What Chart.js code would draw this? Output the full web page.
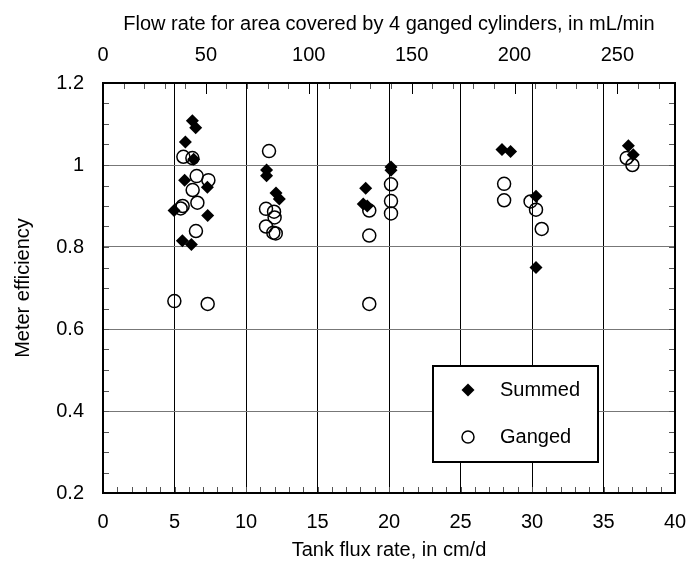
<!DOCTYPE html>
<html lang="en">
<head>
<meta charset="UTF-8">
<title>Meter efficiency</title>
<script src="https://cdn.jsdelivr.net/npm/chart.js"></script>
<style>body{margin:0;background:#fff}</style>
</head>
<body>
<canvas id="grafico" width="689" height="562"></canvas>
<script>
  // eixos
  const fluxTicks = [0, 5, 10, 15, 20, 25, 30, 35, 40];
  const flowTicks = [0, 50, 100, 150, 200, 250];
  const effTicks = [0.2, 0.4, 0.6, 0.8, 1, 1.2];
  const flowMax = 278; // mL/min at 40 cm/d

  // Summed (filled diamonds)
  const summedX = [6.25, 6.48, 5.76, 6.34, 5.71, 7.30, 4.97, 7.32, 5.55, 6.18,
    11.44, 11.44, 12.10, 12.33, 18.37, 18.20, 18.48, 20.14, 20.14,
    27.9, 28.5, 30.28, 30.28, 36.74, 37.08];
  const summedY = [1.108, 1.091, 1.056, 1.014, 0.963, 0.946, 0.889, 0.877, 0.815, 0.806,
    0.988, 0.974, 0.932, 0.917, 0.943, 0.905, 0.900, 0.995, 0.987,
    1.038, 1.033, 0.924, 0.750, 1.047, 1.025];

  // Ganged (open circles)
  const gangedX = [5.62, 6.25, 6.55, 7.37, 6.27, 6.60, 5.57, 5.43, 6.50, 4.99, 7.32,
    11.61, 11.40, 11.96, 12.0, 11.40, 11.91, 12.08,
    18.62, 18.62, 18.62, 20.14, 20.14, 20.14,
    28.05, 28.05, 29.9, 30.28, 30.68, 36.62, 37.02];
  const gangedY = [1.020, 1.017, 0.973, 0.963, 0.939, 0.908, 0.900, 0.894, 0.839, 0.668, 0.661,
    1.034, 0.893, 0.886, 0.872, 0.850, 0.835, 0.833,
    0.889, 0.828, 0.661, 0.953, 0.912, 0.882,
    0.954, 0.914, 0.911, 0.891, 0.844, 1.017, 1.000];

  const fonte = { family: "'Liberation Sans', Arial, sans-serif", size: 20 };
  const pontos = (xs, ys) => xs.map((x, i) => ({ x: x, y: ys[i] }));
  const fixarTicks = lista => scale => { scale.ticks = lista.map(v => ({ value: v })); };

  function diamante(ctx, x, y, r) {
    ctx.beginPath();
    ctx.moveTo(x - r, y); ctx.lineTo(x, y - r); ctx.lineTo(x + r, y); ctx.lineTo(x, y + r);
    ctx.closePath();
    ctx.fillStyle = '#000';
    ctx.fill();
  }

  function circulo(ctx, x, y, r) {
    ctx.beginPath();
    ctx.arc(x, y, r, 0, Math.PI * 2);
    ctx.lineWidth = 1.5;
    ctx.strokeStyle = '#000';
    ctx.stroke();
  }

  // moldura, ticks internos e legenda
  const moldura = {
    id: 'moldura',
    afterDraw(chart) {
      const ctx = chart.ctx;
      const a = chart.chartArea;
      const sx = chart.scales.x, sx2 = chart.scales.x2, sy = chart.scales.y;
      ctx.save();
      ctx.strokeStyle = '#555';
      ctx.lineWidth = 1;
      ctx.beginPath();
      for (let v = 0; v <= 40; v++) {
        const p = Math.round(sx.getPixelForValue(v)) + 0.5;
        ctx.moveTo(p, a.bottom); ctx.lineTo(p, a.bottom - 6);
      }
      for (let v = 0; v <= flowMax; v += 10) {
        const p = Math.round(sx2.getPixelForValue(v)) + 0.5;
        ctx.moveTo(p, a.top); ctx.lineTo(p, a.top + 6);
      }
      for (let i = 0; i <= 20; i++) {
        const p = Math.round(sy.getPixelForValue(0.2 + i * 0.05)) + 0.5;
        ctx.moveTo(a.left, p); ctx.lineTo(a.left + 6, p);
        ctx.moveTo(a.right, p); ctx.lineTo(a.right - 6, p);
      }
      ctx.stroke();

      // ticks maiores do eixo de cima
      ctx.strokeStyle = '#000';
      ctx.beginPath();
      flowTicks.forEach(v => {
        const p = Math.round(sx2.getPixelForValue(v)) + 0.5;
        ctx.moveTo(p, a.top); ctx.lineTo(p, a.top + 11);
      });
      ctx.stroke();

      ctx.lineWidth = 2;
      ctx.strokeRect(a.left, a.top, a.right - a.left, a.bottom - a.top);

      // legenda
      const lx = a.right - 242, ly = a.bottom - 127, lw = 165, lh = 96;
      ctx.fillStyle = '#fff';
      ctx.fillRect(lx, ly, lw, lh);
      ctx.strokeRect(lx, ly, lw, lh);
      diamante(ctx, lx + 35, ly + 24, 6.5);
      circulo(ctx, lx + 35, ly + 71, 6);
      ctx.fillStyle = '#000';
      ctx.font = fonte.size + 'px ' + fonte.family;
      ctx.textBaseline = 'middle';
      ctx.textAlign = 'left';
      ctx.fillText('Summed', lx + 67, ly + 24);
      ctx.fillText('Ganged', lx + 67, ly + 71);
      ctx.restore();
    }
  };

  const semPadding = s => { s.paddingLeft = 0; s.paddingRight = 0; };

  const ctx = document.getElementById('grafico');
  const grafico1 = new Chart(ctx, {
    type: 'scatter',
    data: {
      datasets: [{
        label: 'Summed',
        data: pontos(summedX, summedY),
        pointStyle: 'rectRot',
        pointRadius: 6.5,
        backgroundColor: '#000',
        borderColor: '#000',
        borderWidth: 0
      }, {
        label: 'Ganged',
        data: pontos(gangedX, gangedY),
        pointStyle: 'circle',
        pointRadius: 6.5,
        backgroundColor: 'rgba(0,0,0,0)',
        borderColor: '#000',
        borderWidth: 1.5
      }]
    },
    options: {
      responsive: false,
      animation: false,
      events: [],
      layout: { padding: { right: 14 } },
      plugins: { legend: { display: false }, tooltip: { enabled: false } },
      scales: {
        x: {
          type: 'linear', position: 'bottom', min: 0, max: 40,
          afterBuildTicks: fixarTicks(fluxTicks),
          afterFit: s => { s.height = 69; semPadding(s); },
          ticks: { color: '#000', font: fonte, padding: 17, maxRotation: 0 },
          grid: { color: '#000', lineWidth: 1, drawTicks: false },
          border: { display: false },
          title: { display: true, text: 'Tank flux rate, in cm/d', color: '#000', font: fonte, padding: { top: 0, bottom: 0 } }
        },
        x2: {
          type: 'linear', position: 'top', min: 0, max: flowMax,
          afterBuildTicks: fixarTicks(flowTicks),
          afterFit: s => { s.height = 83; semPadding(s); },
          ticks: { color: '#000', font: fonte, padding: 16, maxRotation: 0 },
          grid: { display: false, drawTicks: false },
          border: { display: false },
          title: { display: true, text: 'Flow rate for area covered by 4 ganged cylinders, in mL/min', color: '#000', font: fonte, padding: { top: 12, bottom: 0 } }
        },
        y: {
          type: 'linear', position: 'left', min: 0.2, max: 1.2,
          afterBuildTicks: fixarTicks(effTicks),
          afterFit: s => { s.width = 103; },
          ticks: { color: '#000', font: fonte, padding: 19, callback: v => String(+v.toFixed(2)) },
          grid: { color: '#777', lineWidth: 1, drawTicks: false },
          border: { display: false },
          title: { display: true, text: 'Meter efficiency', color: '#000', font: fonte, padding: { top: 11, bottom: 0 } }
        }
      }
    },
    plugins: [moldura]
  });
</script>
</body>
</html>
